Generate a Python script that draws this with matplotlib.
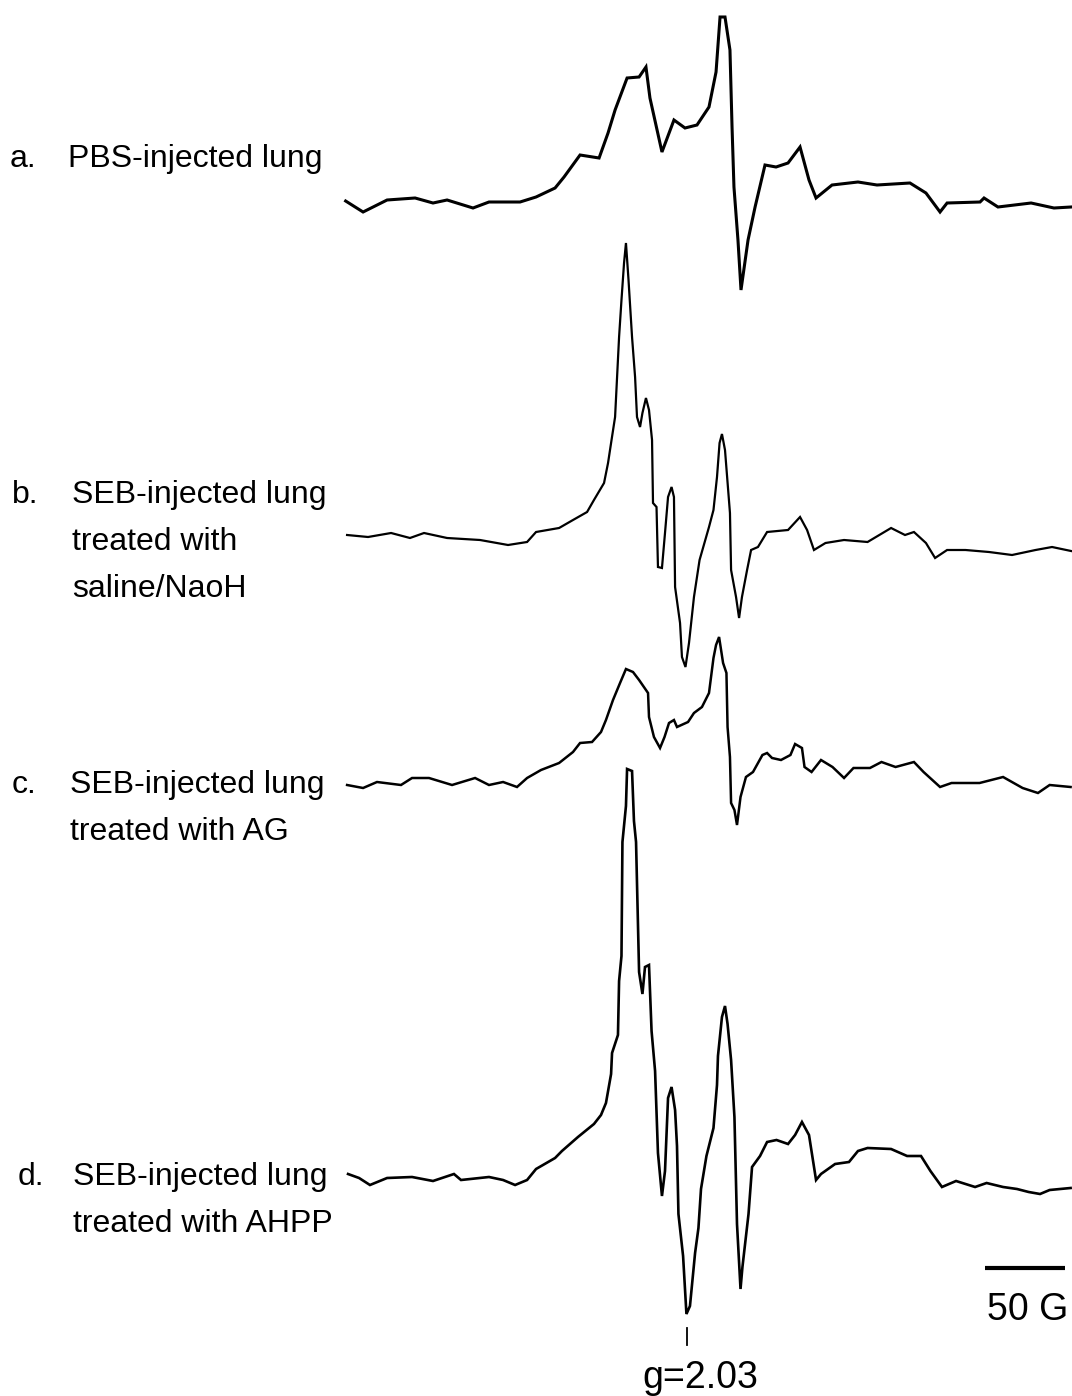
import matplotlib
matplotlib.use("Agg")
import matplotlib.pyplot as plt
import numpy as np

plt.rcParams['font.family'] = ['Liberation Sans', 'DejaVu Sans']

# field offsets in G, signal in arbitrary units (relative to baseline)
field_a = [0.4, 11.3, 26.3, 43.8, 55, 63.8, 80, 90, 109.4, 119.4, 131.3, 136.9, 146.9, 158.8,
           164.4, 168.8, 176.3, 183.8, 188.1, 190.6, 198.1, 205.6, 212.5, 220, 227.5, 231.9,
           234.4, 237.5, 240.6, 241.9, 243.1, 245.6, 247.5, 251.9, 256.3, 262.5, 269.4, 276.9,
           284.4, 290, 294.4, 304.4, 320.6, 332.5, 353.1, 363.1, 371.9, 376.3, 396.9, 399.4,
           408.1, 428.8, 443.1, 453.8]
signal_a = [2, -9, 3, 5, 0, 3, -5, 1, 1, 6, 15, 26, 48, 45,
            70, 93, 125, 126, 136, 105, 51, 83, 75, 78, 96, 131,
            186, 186, 153, 76, 16, -37, -87, -37, -4, 38, 36, 40,
            56, 23, 5, 18, 21, 18, 20, 10, -9, 0, 1, 5,
            -4, 0, -5, -4]

field_b = [1.3, 14.4, 28.8, 40.6, 49.4, 63.8, 84.4, 101.9, 113.8, 119.4, 133.8, 142.5, 151.3,
           155.6, 161.9, 164.4, 166.3, 168.8, 171.3, 172.8, 174.4, 175.6, 177.2, 179.4, 181.3,
           182.5, 184.4, 185.9, 188.1, 190, 191.9, 192.5, 194.7, 195.6, 198.1, 200, 201.9,
           204.1, 205.6, 206.3, 209.4, 210.6, 212.8, 215, 218.1, 221.6, 227.5, 230.3, 232.5,
           234.1, 235.6, 237.5, 240.6, 241.3, 244.4, 246.3, 248.1, 251.3, 253.8, 258.1, 263.8,
           276.9, 284.4, 288.8, 293.1, 300.3, 311.9, 326.6, 341.3, 350, 355.6, 363.1, 368.8,
           376.3, 387.8, 402.5, 416.9, 431.6, 441.9, 453.8]
signal_b = [5, 3, 7, 2, 7, 2, 0, -5, -2, 8, 12, 20, 28,
            40, 57, 77, 97, 123, 203, 240, 277, 297, 260, 203, 163,
            123, 113, 127, 142, 130, 100, 37, 33, -27, -28, 7, 43,
            53, 43, -47, -83, -117, -127, -103, -57, -20, 13, 30, 63,
            97, 106, 90, 27, -30, -57, -78, -57, -30, -10, -7, 8,
            10, 23, 10, -10, -3, 0, -2, 12, 5, 8, -3, -18,
            -10, -10, -12, -15, -10, -7, -11]

field_c = [1.3, 11.3, 20, 35, 41.9, 52.5, 66.9, 81.3, 90, 98.8, 107.5, 113.8, 122.5, 133.8,
           142.5, 146.9, 154.4, 160, 163.1, 167.5, 171.9, 175.6, 180, 183.8, 189.4, 190,
           193.1, 196.9, 199.7, 202.5, 205.6, 207.5, 214.4, 218.1, 223.1, 227.5, 230.3, 231.9,
           233.8, 236.3, 238.4, 239.1, 240.6, 241.3, 243.4, 245, 247.2, 250.6, 255, 260.9,
           263.8, 266.9, 272.5, 278.4, 281.3, 285.6, 287.2, 291.6, 297.5, 304.7, 311.9, 317.8,
           328.1, 335.3, 344.1, 355.6, 361.6, 371.9, 379.1, 396.6, 411.3, 423.5, 433.1, 440.4,
           453.5]
signal_c = [0, -3, 3, 0, 7, 7, 0, 7, 0, 3, -2, 7, 15, 22,
            33, 42, 43, 53, 65, 85, 102, 116, 113, 105, 92, 68,
            48, 37, 48, 62, 65, 58, 63, 72, 78, 92, 127, 140,
            148, 122, 112, 58, 28, -18, -25, -40, -12, 8, 13, 30,
            32, 27, 25, 30, 41, 37, 18, 13, 25, 18, 7, 17,
            17, 23, 18, 23, 13, -2, 2, 2, 8, -3, -8, 0,
            -2]

field_d = [1.9, 8.8, 15.6, 26.3, 41.9, 55, 68.1, 72.5, 90, 98.8, 106.3, 113.8, 119.4, 131.3,
           135.6, 145.6, 155.6, 160, 163.1, 166.3, 166.9, 170.6, 171.3, 172.8, 173.4, 175.6,
           176.3, 179.4, 180.6, 181.9, 183.8, 185.9, 187.5, 190, 191.6, 193.8, 195.6, 198.1,
           200, 201.9, 204.1, 206.3, 207.5, 208.4, 211.3, 213.4, 215.6, 218.8, 220.9, 222.5,
           225.9, 230.3, 232.5, 233.1, 235.6, 237.5, 239.1, 241.3, 243.4, 245, 247.2, 248.4,
           252.2, 254.4, 259.4, 263.8, 269.7, 276.9, 281.3, 285.6, 290, 294.4, 297.5, 306.3,
           315, 320.6, 326.6, 341.3, 351.3, 360, 365.9, 373.1, 381.9, 393.8, 401, 411.3,
           420, 427.3, 434.4, 440.4, 453.5]
signal_d = [6, 2, -5, 2, 3, -1, 6, 0, 3, 0, -5, 0, 11, 22,
            29, 43, 56, 65, 77, 106, 127, 145, 199, 224, 338, 374,
            411, 409, 359, 338, 208, 186, 213, 215, 149, 109, 27, -16,
            9, 82, 93, 70, 34, -34, -76, -134, -126, -73, -48, -9,
            24, 52, 95, 124, 163, 174, 156, 120, 63, -44, -109, -87,
            -34, 13, 24, 38, 40, 36, 45, 58, 45, 0, 6, 16,
            18, 29, 32, 31, 24, 24, 9, -7, -1, -7, -3, -7,
            -9, -12, -14, -10, -8]

labels = [["a.", "PBS-injected lung"],
          ["b.", "SEB-injected lung", "treated with", "saline/NaoH"],
          ["c.", "SEB-injected lung", "treated with AG"],
          ["d.", "SEB-injected lung", "treated with AHPP"]]

scale_bar_G = 50
g_marker_field = 213.75
g_label = "g=2.03"

W, H = 1072, 1396
fig = plt.figure(figsize=(W / 100, H / 100), dpi=100)
ax = fig.add_axes([0, 0, 1, 1])
px_per_G = 1.6
ax.set_xlim(-345 / px_per_G, (W - 345) / px_per_G)
ax.set_ylim(0, H)
ax.axis("off")

traces = [(field_a, signal_a, 1193, 2.2),
          (field_b, signal_b, 856, 1.6),
          (field_c, signal_c, 611, 1.8),
          (field_d, signal_d, 216, 1.9)]
for f, s, base, lw in traces:
    ax.plot(f, np.array(s) + base, color="black", lw=lw, solid_joinstyle="miter")

# label text, positions in pixels from the top-left
def ftext(x, y, s, size=23, **kw):
    fig.text(x / W, 1 - y / H, s, fontsize=size, va="baseline", **kw)

label_pos = [(10, 68, 167), (12, 72, 503), (12, 70, 793), (18, 73, 1185)]
for lab, (xl, xt, yb) in zip(labels, label_pos):
    ftext(xl, yb, lab[0])
    for i, line in enumerate(lab[1:]):
        ftext(xt, yb + 47 * i, line)

# scale bar
ax.plot([400, 400 + scale_bar_G], [H - 1268, H - 1268], color="black", lw=3, solid_capstyle="butt")
ftext(1068, 1320, f"{scale_bar_G} G", size=27, ha="right")

# g marker
ax.plot([g_marker_field, g_marker_field], [H - 1345, H - 1328], color="black", lw=1.3)
ftext(700, 1388, g_label, size=27, ha="center")

fig.savefig("out.png", dpi=100)
